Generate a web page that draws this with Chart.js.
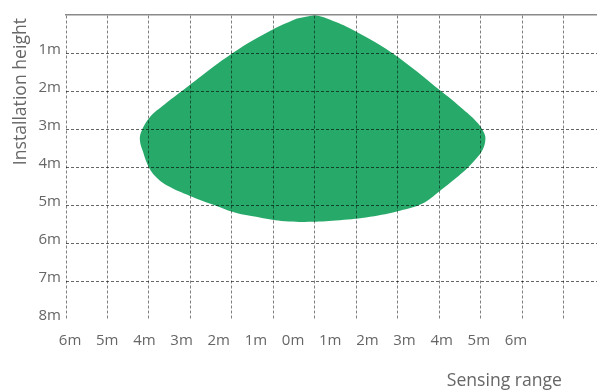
<!DOCTYPE html>
<html><head><meta charset="utf-8">
<script src="https://cdn.jsdelivr.net/npm/chart.js@4"></script>
<style>html,body{margin:0;padding:0;background:#fff}</style>
</head><body>
<canvas id="c" width="597" height="390"></canvas>
<script>
// ---- data ----
const xTickLabels = ['6m','5m','4m','3m','2m','1m','0m','1m','2m','3m','4m','5m','6m'];
const yTickLabels = ['1m','2m','3m','4m','5m','6m','7m','8m'];
const xTitle = 'Sensing range';
const yTitle = 'Installation height';
// detection zone outline (x: grid units from centre, y: metres below ceiling), clockwise from top
const zoneX = [0, 0.29, 0.84, 1.86, 3.06, 3.57, 3.93, 4.08, 4.11, 4.05, 3.88, 3.69, 3.38, 3.01, 2.58, 2.05, 1.33, 0.60, -0.07, -0.72, -1.33, -1.93, -2.46, -3.01, -3.54, -3.83, -4.00, -4.15, -4.22, -4.17, -3.98, -3.69, -3.23, -1.98, -0.96, -0.43];
const zoneY = [0, 0.09, 0.35, 1.00, 2.02, 2.48, 2.85, 3.11, 3.27, 3.53, 3.79, 4.01, 4.31, 4.63, 4.97, 5.15, 5.31, 5.40, 5.44, 5.43, 5.33, 5.20, 4.99, 4.76, 4.50, 4.26, 4.01, 3.58, 3.27, 3.03, 2.69, 2.41, 2.02, 1.00, 0.35, 0.09];

const FONT = '"Open Sans", "Noto Sans", sans-serif';
const TEXT = '#666666';

const titles = {
  id: 'axisTitles',
  afterDraw(chart) {
    const {ctx, chartArea: a} = chart;
    ctx.save();
    ctx.fillStyle = TEXT;
    ctx.font = '17.6px ' + FONT;
    ctx.textBaseline = 'middle';
    ctx.textAlign = 'right';
    ctx.fillText(xTitle, a.right - 35, 381);
    ctx.translate(21, a.top + 3);
    ctx.rotate(-Math.PI / 2);
    ctx.textAlign = 'right';
    ctx.fillText(yTitle, 0, 0);
    ctx.restore();
  }
};

new Chart(document.getElementById('c'), {
  type: 'scatter',
  data: {
    datasets: [{
      data: zoneX.map((x, i) => ({x: x, y: zoneY[i]})),
      showLine: true,
      fill: 'shape',
      backgroundColor: '#27a96a',
      borderColor: '#27a96a',
      borderWidth: 0,
      pointRadius: 0,
      tension: 0.4,
      xAxisID: 'xg',
      yAxisID: 'y'
    }]
  },
  options: {
    responsive: false,
    animation: false,
    layout: {padding: {top: 15, left: 0, right: 0, bottom: 0}},
    plugins: {legend: {display: false}, tooltip: {enabled: false}},
    scales: {
      xg: {
        type: 'linear', position: 'top', min: -6, max: 6.8,
        afterFit(s) { s.height = 0; },
        ticks: {display: false, stepSize: 1},
        grid: {color: 'rgba(0,0,0,0.5)', lineWidth: 1, drawTicks: false, z: 1},
        border: {display: true, color: '#8a8a8a', width: 1.5, dash: [3, 2], z: 1}
      },
      xl: {
        type: 'linear', position: 'bottom', min: -6.11, max: 8.18,
        afterFit(s) { s.height = 71; },
        afterBuildTicks(s) { s.ticks = xTickLabels.map((l, i) => ({value: i - 6})); },
        ticks: {
          autoSkip: false, maxRotation: 0, padding: 13,
          color: TEXT, font: {family: FONT, size: 15},
          callback: (v, i) => xTickLabels[i]
        },
        grid: {display: false, drawTicks: false},
        border: {display: false}
      },
      y: {
        type: 'linear', position: 'left', min: 0, max: 8, reverse: true,
        afterFit(s) { s.width = 66; },
        ticks: {
          stepSize: 1, padding: 5, labelOffset: -3,
          color: TEXT, font: {family: FONT, size: 15},
          callback: (v) => (v >= 1 ? yTickLabels[v - 1] : '')
        },
        grid: {
          color: (c) => (c.tick && (c.tick.value === 0 || c.tick.value === 8)) ? 'rgba(0,0,0,0)' : 'rgba(0,0,0,0.6)',
          lineWidth: 1, drawTicks: false, z: 1
        },
        border: {display: false, dash: [3, 2]}
      }
    }
  },
  plugins: [titles]
});
</script>
</body></html>
